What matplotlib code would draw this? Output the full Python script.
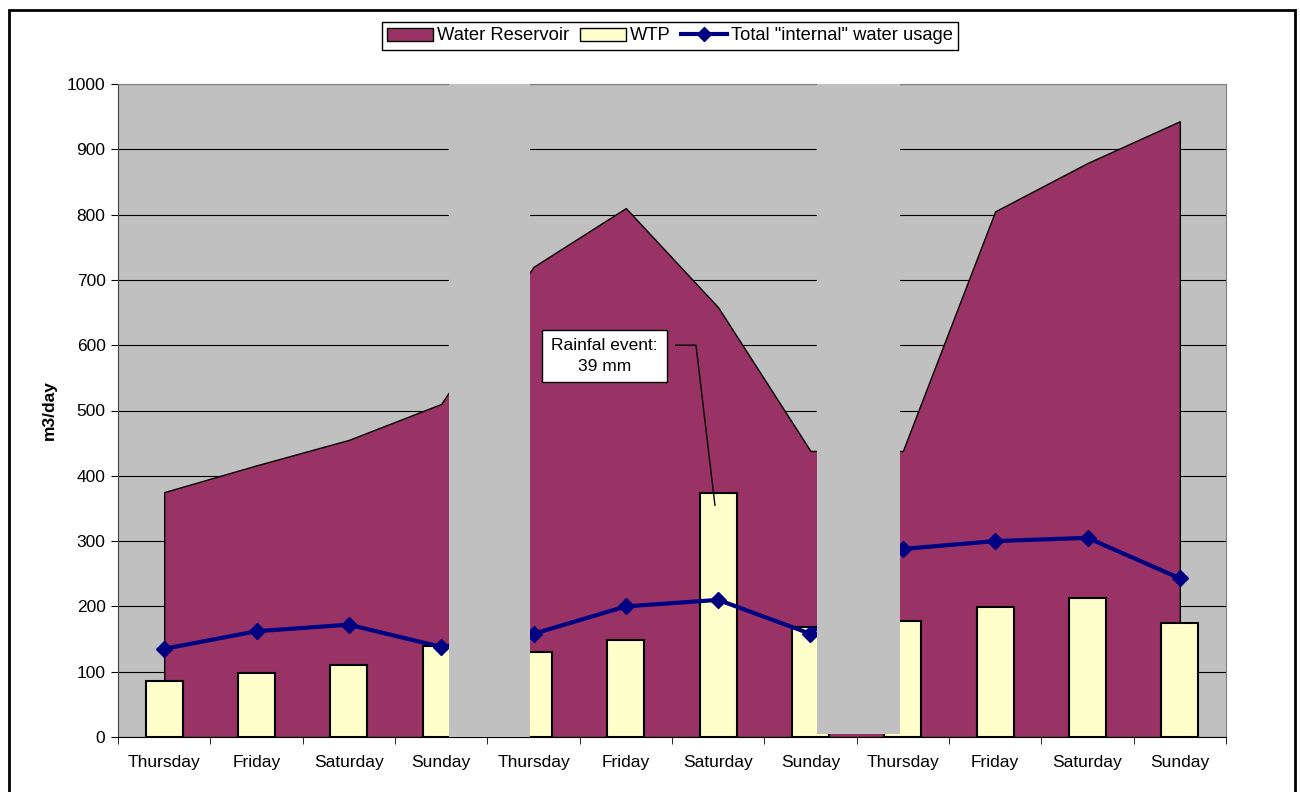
import numpy as np
import matplotlib
matplotlib.use("Agg")
import matplotlib.pyplot as plt
from matplotlib.patches import Rectangle
from matplotlib.lines import Line2D

plt.rcParams['font.family'] = ['Liberation Sans', 'DejaVu Sans']

# data
days = ['Thursday', 'Friday', 'Saturday', 'Sunday',
        'Thursday', 'Friday', 'Saturday', 'Sunday',
        'Thursday', 'Friday', 'Saturday', 'Sunday']
reservoir = [375, 416, 455, 510, 720, 810, 658, 438, 438, 805, 879, 943]
wtp = [85, 98, 110, 139, 130, 149, 374, 168, 178, 199, 213, 174]
internal_use = [135, 162, 172, 138, 158, 200, 210, 158, 288, 300, 305, 243]

MAROON = '#993366'
CREAM = '#FFFFCC'
NAVY = '#000080'
GREY = '#C0C0C0'

fig = plt.figure(figsize=(13, 7.92), dpi=100)
ax = fig.add_axes([118/1300, 55/792, 1108/1300, 653/792])
ax.set_facecolor(GREY)

x = np.arange(len(days))

# gridlines
ax.set_axisbelow(True)
ax.yaxis.grid(True, color='black', lw=0.8)

ax.fill_between(x, reservoir, 0, facecolor=MAROON, edgecolor='black', lw=1, zorder=2)
ax.bar(x, wtp, 0.4, color=CREAM, edgecolor='black', lw=1.5, zorder=3)
ax.plot(x, internal_use, color=NAVY, lw=3, marker='D', ms=8, zorder=4)

# grey blocks separating the weeks
ax.add_patch(Rectangle((3.085, 0), 0.877, 1100, facecolor=GREY, edgecolor='none', zorder=5))
ax.add_patch(Rectangle((7.07, 4.5), 0.9, 1100, facecolor=GREY, edgecolor='none', zorder=5))

# annotation
ax.add_patch(Rectangle((4.09, 544), 1.36, 79, facecolor='white', edgecolor='black', lw=1, zorder=6))
ax.text(4.77, 584, 'Rainfal event:\n39 mm', ha='center', va='center', fontsize=12.5,
        linespacing=1.5, zorder=7)
ax.plot([5.54, 5.76, 5.965], [600, 600, 355], color='black', lw=1, zorder=6)

ax.set_xlim(-0.5, 11.5)
ax.set_ylim(0, 1000)
ax.set_yticks(np.arange(0, 1001, 100))
ax.set_xticks(x)
ax.set_xticklabels(days)
ax.set_xticks(np.arange(-0.5, 12, 1), minor=True)
ax.tick_params(axis='x', which='major', length=0, pad=13, labelsize=12.5)
ax.tick_params(axis='x', which='minor', length=5, direction='out', color='black')
ax.tick_params(axis='y', length=5, direction='out', labelsize=12.5, pad=4)
ax.set_ylabel('m3/day', fontsize=12.5, fontweight='bold', labelpad=7)

for s in ['top', 'right']:
    ax.spines[s].set_color('#808080')
ax.spines['left'].set_color('#404040')
ax.spines['bottom'].set_color('black')

handles = [Rectangle((0, 0), 1, 1, facecolor=MAROON, edgecolor='black', lw=1),
           Rectangle((0, 0), 1, 1, facecolor=CREAM, edgecolor='black', lw=1),
           Line2D([], [], color=NAVY, lw=3, marker='D', ms=7)]
leg = fig.legend(handles, ['Water Reservoir', 'WTP', 'Total "internal" water usage'],
                 loc='center', bbox_to_anchor=(670/1300, 1 - 36/792), ncol=3,
                 fontsize=13.2, frameon=True, fancybox=False, framealpha=1,
                 edgecolor='black', handlelength=2.5, handletextpad=0.2,
                 columnspacing=0.6, borderpad=0.3, borderaxespad=0)
leg.get_frame().set_linewidth(1)

# outer chart border
fig.add_artist(Rectangle((9/1300, -0.02), 1286/1300, 1.02 - 10/792,
                         transform=fig.transFigure, fill=False,
                         edgecolor='black', lw=2))

fig.savefig('out.png', dpi=100)
